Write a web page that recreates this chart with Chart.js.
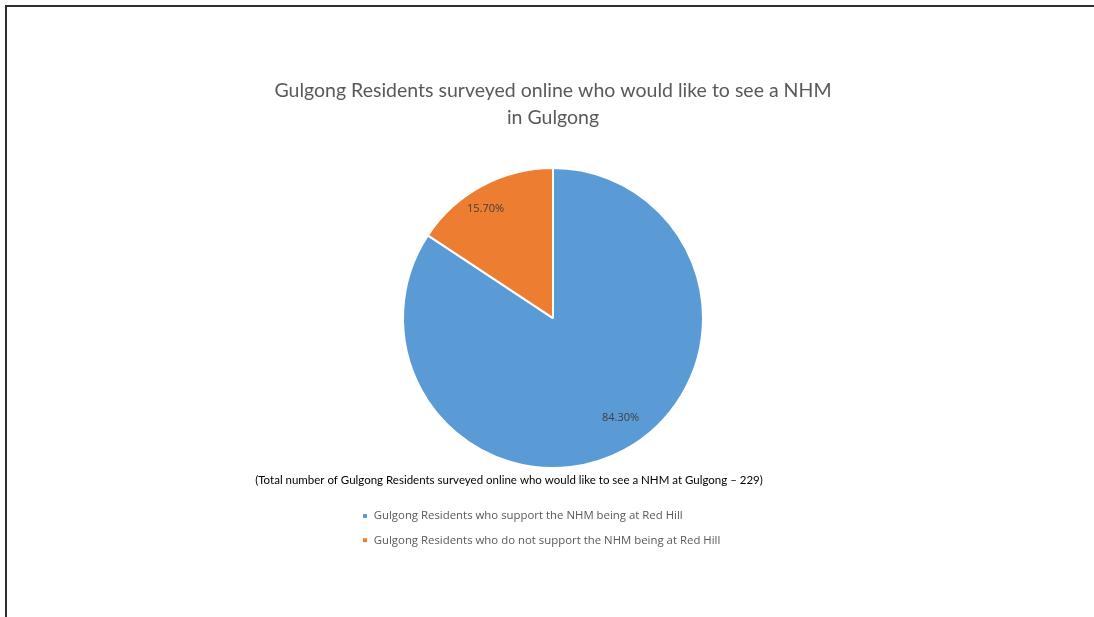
<!DOCTYPE html>
<html>
<head>
<meta charset="utf-8">
<title>Gulgong Residents – NHM survey</title>
<script src="https://cdn.jsdelivr.net/npm/chart.js@4/dist/chart.umd.min.js"></script>
<style>
  html, body { margin: 0; padding: 0; background: #fff; }
  #wrap { position: relative; width: 1094px; height: 617px; overflow: hidden; }
  #frame {
    position: absolute; left: 5px; top: 5px; right: 0; bottom: -10px;
    border-top: 2px solid #2e2e2e; border-left: 2px solid #2e2e2e;
  }
  #surveyPie { position: absolute; left: 0; top: 0; }
</style>
</head>
<body>
<div id="wrap">
  <div id="frame"></div>
  <canvas id="surveyPie" width="1094" height="617"></canvas>
</div>
<script>
/* survey results, percentages of residents who want a NHM in Gulgong */
const categories = [
    'Gulgong Residents who support the NHM being at Red Hill',
    'Gulgong Residents who do not support the NHM being at Red Hill'
];
const shares = [84.3, 15.7];
const sliceColors = ['#5b9bd5', '#ed7d31'];
const titleLines = ['Gulgong Residents surveyed online who would like to see a NHM', 'in Gulgong'];
const footnote = '(Total number of Gulgong Residents surveyed online who would like to see a NHM at Gulgong \u2013 229)';

/* ── two-line heading, drawn without the title box width limit ───── */
const heading = {
    id: 'heading',
    afterDraw(chart) {
        const ctx = chart.ctx;
        const cx = (chart.chartArea.left + chart.chartArea.right) / 2;
        ctx.save();
        ctx.font = '19.5px Lato, sans-serif';
        ctx.fillStyle = '#595959';
        ctx.textAlign = 'center';
        ctx.textBaseline = 'middle';
        titleLines.forEach((line, i) => ctx.fillText(line, cx, 91 + i * 27));
        ctx.restore();
    }
};

/* ── percentage labels inside each slice ─────────────────────────── */
const sliceLabels = {
    id: 'sliceLabels',
    afterDatasetsDraw(chart) {
        const ctx = chart.ctx;
        const meta = chart.getDatasetMeta(0);
        ctx.save();
        ctx.font = '11px "Open Sans", sans-serif';
        ctx.fillStyle = '#404040';
        ctx.textAlign = 'center';
        ctx.textBaseline = 'middle';
        meta.data.forEach((arc, i) => {
            const p = arc.getProps(['x', 'y', 'startAngle', 'endAngle', 'outerRadius'], true);
            const mid = (p.startAngle + p.endAngle) / 2 - 0.08;
            const r = p.outerRadius * 0.83;
            ctx.fillText(shares[i].toFixed(2) + '%', p.x + Math.cos(mid) * r, p.y + Math.sin(mid) * r - 5);
        });
        ctx.restore();
    }
};

/* ── note on the total below the pie ─────────────────────────────── */
const footnoteText = {
    id: 'footnoteText',
    afterDraw(chart) {
        const ctx = chart.ctx;
        ctx.save();
        ctx.font = '11.5px Lato, sans-serif';
        ctx.fillStyle = '#000';
        ctx.textAlign = 'center';
        ctx.textBaseline = 'middle';
        ctx.fillText(footnote, 509, chart.chartArea.bottom + 10);
        ctx.restore();
    }
};

new Chart(document.getElementById('surveyPie').getContext('2d'), {
    type: 'pie',
    data: {
        labels: categories,
        datasets: [{
            data: shares,
            backgroundColor: sliceColors,
            borderColor: '#fff',
            borderWidth: 2,
            hoverOffset: 0,
        }]
    },
    options: {
        responsive: false,
        animation: false,
        radius: 150,
        layout: { padding: { left: 349, right: 337, top: 166, bottom: 61 } },
        plugins: {
            title: { display: false },
            legend: {
                position: 'bottom',
                align: 'start',
                // empty title leaves room for the footnote
                title: { display: true, text: '', font: { size: 12, lineHeight: '14px' }, padding: { top: 13, bottom: 0 } },
                labels: {
                    boxWidth: 6,
                    boxHeight: 6,
                    padding: 13,
                    color: '#595959',
                    font: { family: '"Open Sans", sans-serif', size: 11.4 }
                }
            },
            tooltip: { enabled: false }
        }
    },
    plugins: [heading, sliceLabels, footnoteText]
});
</script>
</body>
</html>
